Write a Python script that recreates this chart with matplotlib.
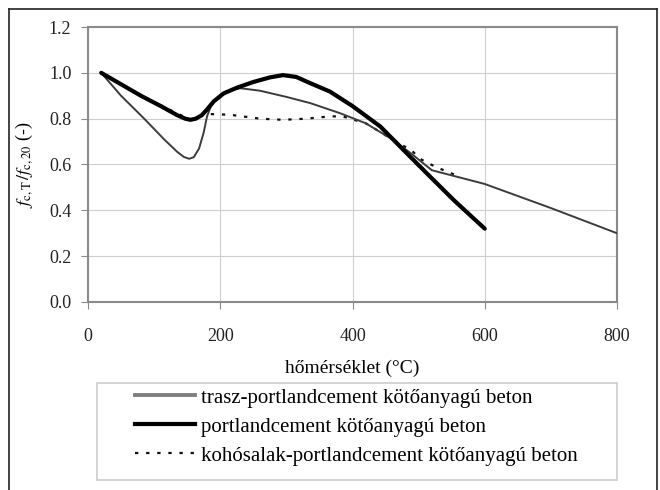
import matplotlib
matplotlib.use("Agg")
import matplotlib.pyplot as plt
from matplotlib.lines import Line2D
from matplotlib.patches import Rectangle

plt.rcParams["font.family"] = ["Liberation Serif", "DejaVu Serif"]
plt.rcParams["mathtext.fontset"] = "stix"

# trasz-portlandcement kötőanyagú beton
x_trasz = [20, 50, 85, 115, 135, 145, 153, 160, 168, 175, 180, 186, 195, 208, 230,
           260, 300, 336, 381, 420, 460, 490, 520, 560, 600, 700, 800]
y_trasz = [1.00, 0.90, 0.80, 0.71, 0.655, 0.633, 0.625, 0.632, 0.67, 0.74, 0.81, 0.855,
           0.89, 0.918, 0.933, 0.922, 0.895, 0.868, 0.824, 0.78, 0.71, 0.645, 0.575,
           0.545, 0.515, 0.41, 0.30]

# portlandcement kötőanyagú beton
x_portland = [20, 50, 80, 110, 135, 147, 155, 163, 172, 180, 190, 205, 225, 250, 275,
              295, 315, 336, 366, 400, 442, 480, 517, 553, 600]
y_portland = [1.00, 0.95, 0.90, 0.855, 0.815, 0.80, 0.795, 0.80, 0.815, 0.84, 0.875,
              0.91, 0.935, 0.96, 0.98, 0.99, 0.982, 0.955, 0.918, 0.855, 0.766, 0.655,
              0.548, 0.445, 0.32]

# kohósalak-portlandcement kötőanyagú beton
x_koho = [20, 80, 155, 172, 185, 215, 260, 295, 330, 366, 385, 420, 460, 490, 502,
          520, 537, 555]
y_koho = [1.00, 0.90, 0.795, 0.815, 0.82, 0.817, 0.80, 0.795, 0.80, 0.81, 0.81, 0.78,
          0.71, 0.66, 0.625, 0.598, 0.576, 0.555]

labels = ["trasz-portlandcement kötőanyagú beton",
          "portlandcement kötőanyagú beton",
          "kohósalak-portlandcement kötőanyagú beton"]

x_ticks = [0, 200, 400, 600, 800]
y_ticks = [0.0, 0.2, 0.4, 0.6, 0.8, 1.0, 1.2]

W, H = 660, 490
fig = plt.figure(figsize=(W / 100, H / 100), dpi=100)
ax = fig.add_axes([88 / W, 1 - 302 / H, (617 - 88) / W, (302 - 27) / H])

ax.set_xlim(0, 800)
ax.set_ylim(0, 1.2)
ax.set_xticks(x_ticks)
ax.set_yticks(y_ticks)
ax.set_yticklabels([f"{v:.1f}" for v in y_ticks])
ax.grid(True, color="#cfcfcf", linewidth=0.8)
ax.set_axisbelow(True)
for s in ax.spines.values():
    s.set_color("#8a8a8a")
    s.set_linewidth(1.5)
ax.tick_params(axis="both", colors="#8a8a8a", labelcolor="#222222", labelsize=13,
               length=5, width=0.8, direction="out")
ax.tick_params(axis="x", pad=14)
ax.tick_params(axis="y", pad=7)

dot_style = (0, (1.5, 3.5))
ax.plot(x_koho, y_koho, color="#111111", linewidth=1.6, linestyle=dot_style, zorder=2)
ax.plot(x_trasz, y_trasz, color="#3c3c3c", linewidth=1.4, zorder=3)
ax.plot(x_portland, y_portland, color="#000000", linewidth=3.0, zorder=4,
        solid_capstyle="round", solid_joinstyle="round")

ax.set_xlabel("hőmérséklet (°C)", fontsize=14, labelpad=10)
ax.set_ylabel(r"$f_{\mathrm{c,T}}\,/f_{\mathrm{c,20}}$ (-)", fontsize=13, labelpad=10)

# legend: entries placed freely, frame drawn as its own rectangle
fig.add_artist(Rectangle((97 / W, 1 - 480 / H), (617 - 97) / W, (480 - 383) / H,
                         transform=fig.transFigure, facecolor="white",
                         edgecolor="#cccccc", linewidth=1.2, zorder=1))
handles = [
    Line2D([], [], color="#808080", linewidth=2.8),
    Line2D([], [], color="#000000", linewidth=3.0),
    Line2D([], [], color="#111111", linewidth=1.6, linestyle=dot_style),
]
leg = fig.legend(handles, labels, loc="upper left",
                 bbox_to_anchor=(135 / W, 1 - 388 / H),
                 fontsize=15, frameon=False, handlelength=2.9, handletextpad=0.25,
                 borderpad=0, labelspacing=0.45, borderaxespad=0)
leg.set_zorder(2)

# outer frame of the figure
for xs, ys in [((9 / W, 9 / W), (0, 1 - 9 / H)),
               ((9 / W, 657 / W), (1 - 9 / H, 1 - 9 / H)),
               ((657 / W, 657 / W), (0, 1 - 9 / H))]:
    fig.add_artist(Line2D(xs, ys, color="#222222", linewidth=1.2,
                          transform=fig.transFigure))

fig.savefig("out.png", dpi=100, facecolor="white")
